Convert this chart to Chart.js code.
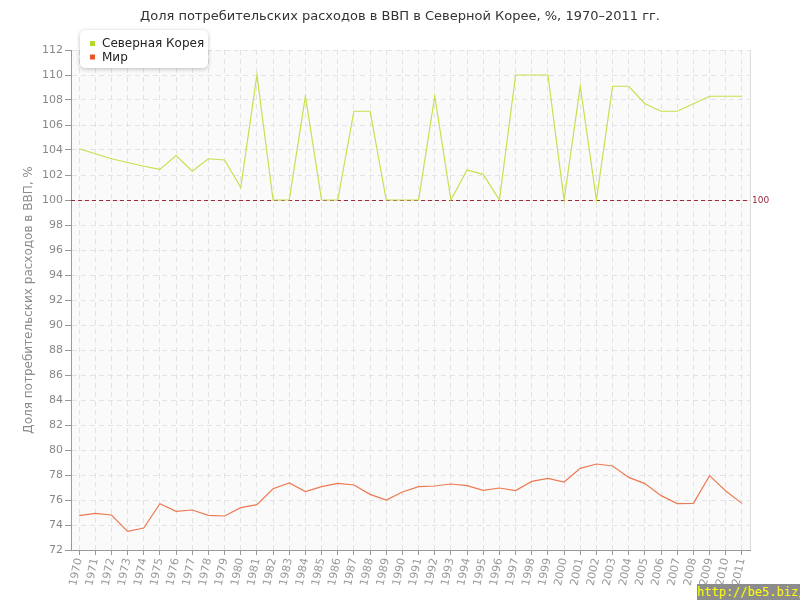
<!DOCTYPE html>
<html>
<head>
<meta charset="utf-8">
<script src="https://cdn.jsdelivr.net/npm/chart.js@4"></script>
<style>
html, body { margin: 0; padding: 0; background: #fff; }
#wrap { position: relative; width: 800px; height: 600px; overflow: hidden; }
#watermark {
    position: absolute; right: 0; bottom: 0; width: 103px; height: 16px;
    background: #8c8c8c; color: #ffff00;
    font: 12px "DejaVu Sans Mono", monospace; line-height: 17px; text-align: center;
}
</style>
</head>
<body>
<div id="wrap">
    <canvas id="chart" width="800" height="600"></canvas>
    <div id="watermark">http://be5.biz/</div>
</div>
<script>
// data
const years = ['1970', '1971', '1972', '1973', '1974', '1975', '1976', '1977', '1978', '1979',
    '1980', '1981', '1982', '1983', '1984', '1985', '1986', '1987', '1988', '1989',
    '1990', '1991', '1992', '1993', '1994', '1995', '1996', '1997', '1998', '1999',
    '2000', '2001', '2002', '2003', '2004', '2005', '2006', '2007', '2008', '2009',
    '2010', '2011'];

const northKorea = [104.1, 103.7, 103.3, 103.0, 102.7, 102.45, 103.55, 102.3, 103.3, 103.2,
    101.0, 110.0, 100, 100, 108.3, 100, 100, 107.1, 107.1, 100,
    100, 100, 108.3, 100, 102.4, 102.05, 100, 110, 110, 110,
    100, 109.1, 100, 109.1, 109.1, 107.7, 107.1, 107.1, 107.7, 108.3,
    108.3, 108.3];

const world = [74.75, 74.93, 74.8, 73.49, 73.76, 75.7, 75.09, 75.2, 74.77, 74.72,
    75.39, 75.63, 76.9, 77.36, 76.67, 77.07, 77.33, 77.2, 76.45, 76.0,
    76.64, 77.07, 77.12, 77.28, 77.15, 76.77, 76.96, 76.75, 77.49, 77.73,
    77.44, 78.53, 78.88, 78.72, 77.81, 77.31, 76.35, 75.71, 75.73, 77.95,
    76.72, 75.73];

const yMin = 72;
const yMax = 112;
const yStep = 2;
const refValue = 100;

const seriesLabels = ['Северная Корея', 'Мир'];
const titleText = 'Доля потребительских расходов в ВВП в Северной Корее, %, 1970–2011 гг.';
const yTitle = 'Доля потребительских расходов в ВВП, %';

const FONT = '"DejaVu Sans", Verdana, sans-serif';

// light grey plot background + right edge
const plotBg = {
    id: 'plotBg',
    beforeDraw(chart) {
        const { ctx, chartArea: a } = chart;
        ctx.save();
        ctx.fillStyle = '#fafafa';
        ctx.fillRect(a.left, a.top, a.right - a.left, a.bottom - a.top);
        ctx.strokeStyle = '#dcdcdc';
        ctx.beginPath();
        ctx.moveTo(a.right + 0.5, a.top);
        ctx.lineTo(a.right + 0.5, a.bottom);
        ctx.stroke();
        ctx.restore();
    }
};

// title centred on the whole canvas
const pageTitle = {
    id: 'pageTitle',
    afterDraw(chart) {
        const { ctx, width } = chart;
        ctx.save();
        ctx.fillStyle = '#333';
        ctx.font = '13px ' + FONT;
        ctx.textAlign = 'center';
        ctx.textBaseline = 'middle';
        ctx.fillText(titleText, width / 2, 17);
        ctx.restore();
    }
};

// dashed line at 100 with its label
const refLine = {
    id: 'refLine',
    beforeDatasetsDraw(chart) {
        const { ctx, chartArea: a, scales } = chart;
        const y = Math.round(scales.y.getPixelForValue(refValue)) + 0.5;
        ctx.save();
        ctx.strokeStyle = '#9e2a3e';
        ctx.lineWidth = 1;
        ctx.setLineDash([4, 3]);
        ctx.beginPath();
        ctx.moveTo(a.left, y);
        ctx.lineTo(a.right, y);
        ctx.stroke();
        ctx.setLineDash([]);
        ctx.fillStyle = '#9e2a3e';
        ctx.font = '9px ' + FONT;
        ctx.textBaseline = 'middle';
        ctx.fillText(String(refValue), a.right + 2, y);
        ctx.restore();
    }
};

// legend box inside the plot, top left
const boxLegend = {
    id: 'boxLegend',
    afterDraw(chart) {
        const { ctx } = chart;
        const x = 80, y = 30, w = 128, h = 38;
        ctx.save();
        ctx.shadowColor = 'rgba(0,0,0,0.25)';
        ctx.shadowBlur = 4;
        ctx.shadowOffsetY = 1;
        ctx.fillStyle = '#fff';
        ctx.beginPath();
        ctx.roundRect(x, y, w, h, 5);
        ctx.fill();
        ctx.shadowColor = 'transparent';
        ctx.font = '12px ' + FONT;
        ctx.textBaseline = 'middle';
        chart.data.datasets.forEach((ds, i) => {
            const cy = y + 14 + i * 13.5;
            ctx.fillStyle = ds.legendColor;
            ctx.fillRect(x + 10, cy - 3, 5, 5);
            ctx.fillStyle = '#222';
            ctx.fillText(ds.label, x + 22, cy);
        });
        ctx.restore();
    }
};

const ctx = document.getElementById('chart').getContext('2d');
new Chart(ctx, {
    type: 'line',
    data: {
        labels: years,
        datasets: [{
            label: seriesLabels[0],
            data: northKorea,
            borderColor: '#c6e04e',
            legendColor: '#b5d82e',
            borderWidth: 1.2,
            pointRadius: 0,
            tension: 0,
            fill: false
        }, {
            label: seriesLabels[1],
            data: world,
            borderColor: '#ec7a52',
            legendColor: '#e3572a',
            borderWidth: 1.2,
            pointRadius: 0,
            tension: 0,
            fill: false
        }]
    },
    options: {
        responsive: false,
        animation: false,
        devicePixelRatio: 1,
        layout: { padding: { left: 0, right: 50, top: 50, bottom: 0 } },
        plugins: {
            legend: { display: false },
            tooltip: { enabled: false },
            title: { display: false }
        },
        scales: {
            x: {
                offset: true,
                grid: {
                    color: '#e3e3e3',
                    tickColor: '#999',
                    tickLength: 5,
                    tickBorderDash: [],
                    offset: false
                },
                border: { color: '#999', dash: [5, 4] },
                ticks: {
                    color: '#999',
                    font: { family: FONT, size: 11 },
                    autoSkip: false,
                    minRotation: 78,
                    maxRotation: 78,
                    padding: 2
                },
                afterFit(scale) { scale.height = 50; }
            },
            y: {
                min: yMin,
                max: yMax,
                ticks: {
                    stepSize: yStep,
                    color: '#888',
                    font: { family: FONT, size: 11 },
                    padding: 2
                },
                grid: {
                    color: '#e3e3e3',
                    tickColor: '#999',
                    tickLength: 6,
                    tickBorderDash: []
                },
                border: { color: '#999', dash: [5, 4] },
                title: {
                    display: true,
                    text: yTitle,
                    color: '#8c8c8c',
                    font: { family: FONT, size: 12 },
                    padding: { top: 22, bottom: 0 }
                },
                afterFit(scale) { scale.width = 71; }
            }
        }
    },
    plugins: [plotBg, refLine, boxLegend, pageTitle]
});
</script>
</body>
</html>
